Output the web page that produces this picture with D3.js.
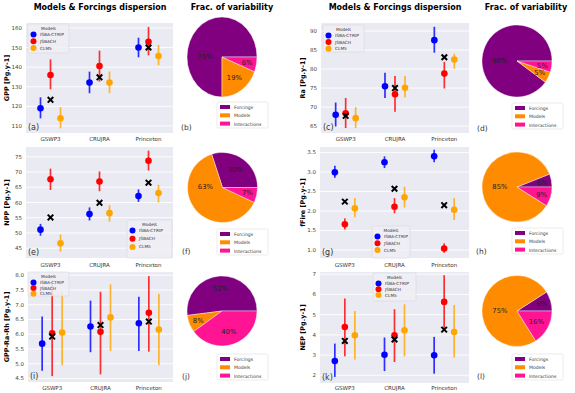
<!DOCTYPE html>
<html>
<head>
<meta charset="utf-8">
<script src="https://cdn.jsdelivr.net/npm/d3@7"></script>
<style>
body { margin: 0; background: #fff; }
text { font-family: "DejaVu Sans", sans-serif; }
</style>
</head>
<body>
<div id="chart"></div>
<script>
var forcings = ["GSWP3", "CRUJRA", "Princeton"];
var models = ["ISBA-CTRIP", "JSBACH", "CLM5"];
var modelColors = ["#0000ff", "#ff0000", "#ffa500"];
var fracLabels = ["Forcings", "Models", "Interactions"];
var fracColors = ["#800080", "#ff8c00", "#ff1493"];

// rows = models (ISBA-CTRIP, JSBACH, CLM5), columns = forcings
var gppMean  = [[119, 132.1, 150], [136, 140.6, 152.9], [113.9, 132.1, 145.7]];
var gppLow   = [[113.9, 126.7, 145], [128.7, 132.6, 146], [108.8, 126.7, 141]];
var gppHigh  = [[124.6, 137.7, 155], [144, 148.4, 160.5], [119.5, 137.7, 151.3]];
var gppCross = [123.3, 134.8, 150];
var gppTicks = [110, 120, 130, 140, 150, 160];
var gppFrac  = [75, 19, 6];

var raMean  = [[68, 75.5, 87.6], [68.4, 73.4, 78.8], [67.1, 75.1, 82.5]];
var raLow   = [[64.9, 72.4, 84.3], [64.5, 68.8, 74.9], [64.5, 72.6, 80.1]];
var raHigh  = [[71.2, 79, 91.1], [72.4, 78.2, 81.9], [70, 78.2, 84]];
var raCross = [67.7, 75, 83.1];
var raTicks = [65, 70, 75, 80, 85, 90];
var raFrac  = [90, 5, 5];

var nppMean  = [[51.1, 56.2, 62.1], [67.6, 66.9, 73.7], [46.6, 56.5, 63.1]];
var nppLow   = [[49.1, 54.1, 60.2], [64.1, 63.7, 70.5], [43.9, 53.7, 60]];
var nppHigh  = [[53, 58.4, 64.3], [71.1, 70.2, 77], [49.5, 59.1, 65.8]];
var nppCross = [55.1, 59.9, 66.5];
var nppTicks = [45, 50, 55, 60, 65, 70, 75];
var nppFrac  = [30, 63, 7];

var fireMean  = [[2.99, 3.25, 3.4], [1.66, 2.11, 1.04], [2.07, 2.35, 2.03]];
var fireLow   = [[2.85, 3.1, 3.25], [1.53, 1.94, 0.93], [1.84, 2.09, 1.77]];
var fireHigh  = [[3.16, 3.4, 3.57], [1.81, 2.33, 1.17], [2.33, 2.62, 2.33]];
var fireCross = [2.24, 2.57, 2.15];
var fireTicks = [1.0, 1.5, 2.0, 2.5, 3.0, 3.5];
var fireFrac  = [6, 85, 9];

var nbpMean  = [[5.68, 6.26, 6.37], [6.03, 6.08, 6.73], [6.06, 6.57, 6.16]];
var nbpLow   = [[4.76, 5.39, 5.43], [4.58, 4.64, 5.41], [4.95, 5.43, 4.95]];
var nbpHigh  = [[6.6, 7.14, 7.27], [7.69, 7.44, 7.97], [7.45, 7.69, 7.37]];
var nbpCross = [5.92, 6.31, 6.43];
var nbpTicks = [4.5, 5.0, 5.5, 6.0, 6.5, 7.0, 7.5, 8.0];
var nbpFrac  = [52, 8, 40];

var nepMean  = [[2.71, 3.02, 2.99], [4.39, 3.98, 5.63], [3.98, 4.23, 4.14]];
var nepLow   = [[1.92, 2.21, 2.08], [2.94, 2.66, 4.31], [2.78, 2.94, 2.88]];
var nepHigh  = [[3.57, 3.87, 3.9], [5.8, 5.27, 6.95], [5.18, 5.51, 5.47]];
var nepCross = [3.7, 3.77, 4.26];
var nepTicks = [2, 3, 4, 5, 6, 7];
var nepFrac  = [9, 75, 16];

var width = 575, height = 393;

var panels = [
	{ tag: "(a)", ylab: "GPP [Pg.y-1]", mean: gppMean, low: gppLow, high: gppHigh, cross: gppCross, ticks: gppTicks, fmt: "d",
	  box: [26, 23, 173, 133], dom: [106.4, 162.5], tickY: 141, leg: [28, 24, 41, 29, 6.8],
	  frac: gppFrac, pie: [222, 57], pieRy: 40, pieTag: "(b)", pieTagPos: [181, 130], pieLeg: [217, 102] },
	{ tag: "(c)", ylab: "Ra [Pg.y-1]", mean: raMean, low: raLow, high: raHigh, cross: raCross, ticks: raTicks, fmt: "d",
	  box: [321, 23, 469, 133], dom: [63.2, 92.1], tickY: 141, leg: [323, 25, 41, 27, 6.6],
	  frac: raFrac, pie: [517, 61], pieRy: 36, pieTag: "(d)", pieTagPos: [477, 131], pieLeg: [512, 103] },
	{ tag: "(e)", ylab: "NPP [Pg.y-1]", mean: nppMean, low: nppLow, high: nppHigh, cross: nppCross, ticks: nppTicks, fmt: "d",
	  box: [26, 147, 173, 258], dom: [41.8, 78.2], tickY: 267, leg: [127, 220, 45, 38, 8.2],
	  frac: nppFrac, pie: [222.5, 187.5], pieRy: 35, pieTag: "(f)", pieTagPos: [182, 254], pieLeg: [217, 229] },
	{ tag: "(g)", ylab: "fFire [Pg.y-1]", mean: fireMean, low: fireLow, high: fireHigh, cross: fireCross, ticks: fireTicks, fmt: ".1f",
	  box: [320, 147, 469, 258], dom: [0.795, 3.64], tickY: 267, leg: [372, 226, 38, 32, 6.8],
	  frac: fireFrac, pie: [517, 187], pieRy: 35, pieTag: "(h)", pieTagPos: [476, 254], pieLeg: [512, 228] },
	{ tag: "(i)", ylab: "GPP-Ra-Rh [Pg.y-1]", mean: nbpMean, low: nbpLow, high: nbpHigh, cross: nbpCross, ticks: nbpTicks, fmt: ".1f",
	  box: [28, 272, 173, 382], dom: [4.38, 8.11], tickY: 390, leg: [28, 272, 41, 24, 5.6],
	  frac: nbpFrac, pie: [222, 311], pieRy: 35, pieTag: "(j)", pieTagPos: [182, 379], pieLeg: [217, 354] },
	{ tag: "(k)", ylab: "NEP [Pg.y-1]", mean: nepMean, low: nepLow, high: nepHigh, cross: nepCross, ticks: nepTicks, fmt: "d",
	  box: [320, 272, 469, 383], dom: [1.62, 7.11], tickY: 390, leg: [373, 273, 43, 28, 5.8],
	  frac: nepFrac, pie: [517, 311], pieRy: 35.5, pieTag: "(l)", pieTagPos: [477, 379], pieLeg: [512, 354] }
];

var svg = d3.select("#chart").append("svg")
	.attr("width", width)
	.attr("height", height)
	.style("background", "#fff");

// column titles
[100, 395].forEach(function(cx) {
	svg.append("text").attr("x", cx).attr("y", 10).attr("text-anchor", "middle")
		.style("font-size", "8px").style("font-weight", "bold").text("Models & Forcings dispersion");
});
[232, 526].forEach(function(cx) {
	svg.append("text").attr("x", cx).attr("y", 10).attr("text-anchor", "middle")
		.style("font-size", "8px").style("font-weight", "bold").text("Frac. of variability");
});

// matplotlib-like pie: starts at 3 o'clock, runs counter-clockwise
var pie = d3.pie().value(function(d) { return d; }).sort(null)
	.startAngle(Math.PI / 2).endAngle(Math.PI / 2 - 2 * Math.PI);
var pieR = 35;
var arc = d3.arc().innerRadius(0).outerRadius(pieR);

function pctPosition(d, ry) {
	var a = (d.startAngle + d.endAngle) / 2, rr;
	if (d.data > 60) { a = Math.PI / 2 - 178 * Math.PI / 180; rr = 0.49 * pieR; }
	else if (d.data < 10) rr = 0.73 * pieR;
	else rr = 0.63 * pieR;
	return [Math.sin(a) * rr, -Math.cos(a) * rr * ry / pieR];
}

panels.forEach(function(p) {
	var x0 = p.box[0], y0 = p.box[1], x1 = p.box[2], y1 = p.box[3];
	var x = d3.scalePoint().domain(forcings).range([x0, x1]).padding(0.5);
	var y = d3.scaleLinear().domain(p.dom).range([y1, y0]);
	var g = svg.append("g");

	g.append("rect").attr("x", x0).attr("y", y0).attr("width", x1 - x0).attr("height", y1 - y0)
		.attr("fill", "#eaeaf2");

	// grid + y tick labels
	g.selectAll(".grid").data(p.ticks).enter().append("line")
		.attr("x1", x0).attr("x2", x1)
		.attr("y1", function(d) { return y(d); }).attr("y2", function(d) { return y(d); })
		.attr("stroke", "#fff").attr("stroke-width", 0.9);
	g.selectAll(".ytl").data(p.ticks).enter().append("text")
		.attr("x", x0 - 4).attr("y", function(d) { return y(d) + 2; })
		.attr("text-anchor", "end").attr("fill", "#444")
		.style("font-size", "5.5px").text(d3.format(p.fmt));
	g.selectAll(".xtl").data(forcings).enter().append("text")
		.attr("x", function(d) { return x(d); }).attr("y", p.tickY)
		.attr("text-anchor", "middle").attr("fill", "#333")
		.style("font-size", "5.5px").text(function(d) { return d; });

	var ylx = x0 < 200 ? 9 : 305;
	g.append("text")
		.attr("transform", "translate(" + ylx + "," + ((y0 + y1) / 2) + ") rotate(-90)")
		.attr("text-anchor", "middle").style("font-size", "6.5px").style("font-weight", "bold")
		.text(p.ylab);

	// error bars + means
	models.forEach(function(m, mi) {
		var off = (mi - 1) * 10;
		forcings.forEach(function(f, fi) {
			g.append("line")
				.attr("x1", x(f) + off).attr("x2", x(f) + off)
				.attr("y1", y(p.low[mi][fi])).attr("y2", y(p.high[mi][fi]))
				.attr("stroke", modelColors[mi]).attr("stroke-width", 1.7).attr("stroke-opacity", 0.8);
			g.append("circle")
				.attr("cx", x(f) + off).attr("cy", y(p.mean[mi][fi])).attr("r", 3.3)
				.attr("fill", modelColors[mi]);
		});
	});

	g.selectAll(".cross").data(p.cross).enter().append("path")
		.attr("transform", function(d, i) { return "translate(" + x(forcings[i]) + "," + y(d) + ")"; })
		.attr("d", d3.symbol().type(d3.symbolX).size(22))
		.attr("fill", "none").attr("stroke", "#000").attr("stroke-width", 2);

	g.append("text").attr("x", x0 + 2).attr("y", y1 - 3)
		.attr("fill", "#333").style("font-size", "8px").text(p.tag);

	// model legend
	var L = p.leg;
	var lg = g.append("g").attr("transform", "translate(" + L[0] + "," + L[1] + ")");
	lg.append("rect").attr("width", L[2]).attr("height", L[3]).attr("rx", 1.5)
		.attr("fill", "#eeeef4").attr("fill-opacity", 0.85).attr("stroke", "#d6d6de").attr("stroke-width", 0.6);
	lg.append("text").attr("x", L[2] / 2).attr("y", 5.5).attr("text-anchor", "middle")
		.attr("fill", "#333").style("font-size", "4.3px").text("Models");
	models.forEach(function(m, mi) {
		var cy = 10.5 + mi * L[4];
		lg.append("circle").attr("cx", 5.5).attr("cy", cy).attr("r", 3).attr("fill", modelColors[mi]);
		lg.append("text").attr("x", 12).attr("y", cy + 1.5).attr("fill", "#333")
			.style("font-size", "4.3px").text(m);
	});

	// pie of variability fractions
	var pg = svg.append("g").attr("transform", "translate(" + p.pie[0] + "," + p.pie[1] + ")");
	var slices = pie(p.frac);
	pg.selectAll(".slice").data(slices).enter().append("path")
		.attr("d", arc).attr("transform", "scale(1," + (p.pieRy / pieR) + ")")
		.attr("fill", function(d, i) { return fracColors[i]; })
		.attr("stroke", "#fff").attr("stroke-width", 0.4);
	pg.selectAll(".pct").data(slices).enter().append("text")
		.attr("transform", function(d) { var c = pctPosition(d, p.pieRy); return "translate(" + c[0] + "," + (c[1] + 2.4) + ")"; })
		.attr("text-anchor", "middle").attr("fill", "#222")
		.style("font-size", "6.8px").text(function(d) { return d.data + "%"; });

	svg.append("text").attr("x", p.pieTagPos[0]).attr("y", p.pieTagPos[1])
		.attr("fill", "#333").style("font-size", "7.5px").text(p.pieTag);

	var fl = svg.append("g").attr("transform", "translate(" + p.pieLeg[0] + "," + p.pieLeg[1] + ")");
	fl.append("rect").attr("width", 51).attr("height", 26).attr("rx", 1.5)
		.attr("fill", "#fff").attr("stroke", "#ddd").attr("stroke-width", 0.6);
	fracLabels.forEach(function(lbl, i) {
		fl.append("rect").attr("x", 3).attr("y", 3 + i * 8.3).attr("width", 10).attr("height", 4)
			.attr("fill", fracColors[i]);
		fl.append("text").attr("x", 17).attr("y", 7 + i * 8.3).attr("fill", "#333")
			.style("font-size", "4.6px").text(lbl);
	});
});
</script>
</body>
</html>
